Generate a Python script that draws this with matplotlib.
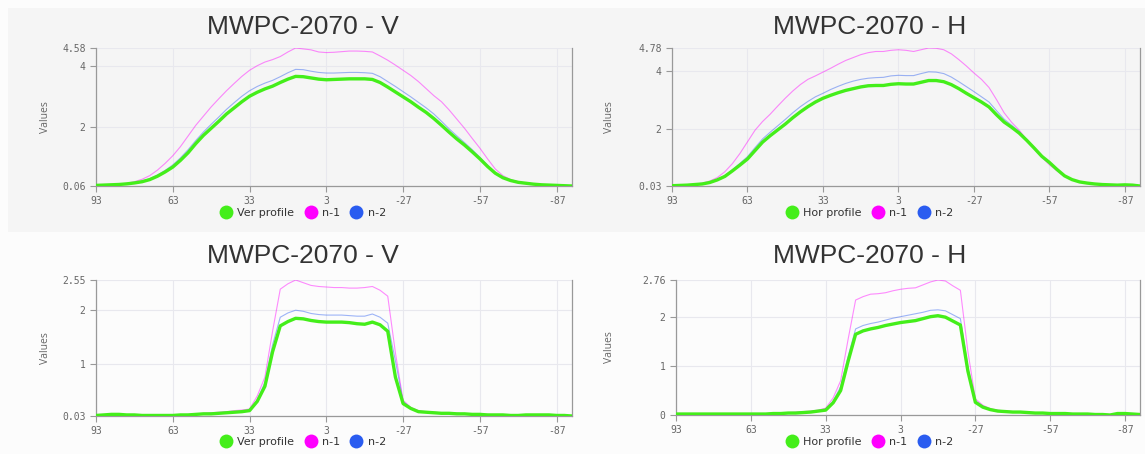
import numpy as np
import matplotlib
matplotlib.use("Agg")
import matplotlib.pyplot as plt
from matplotlib.lines import Line2D
from matplotlib.patches import Rectangle

plt.rcParams["axes.unicode_minus"] = False

# positions (mm) along the wire chamber, 93 .. -93
pos = [93 - 3 * i for i in range(63)]

# --- top left : vertical profile ---
v1_cur = [0.08, 0.09, 0.10, 0.11, 0.13, 0.16, 0.20, 0.27, 0.38, 0.52, 0.68, 0.90, 1.15, 1.45, 1.72, 1.95,
          2.18, 2.42, 2.62, 2.82, 3.00, 3.13, 3.24, 3.33, 3.45, 3.56, 3.65, 3.64, 3.60, 3.56, 3.54, 3.55,
          3.56, 3.57, 3.57, 3.57, 3.55, 3.45, 3.30, 3.14, 2.98, 2.82, 2.64, 2.47, 2.27, 2.05, 1.82, 1.60,
          1.40, 1.18, 0.95, 0.70, 0.48, 0.33, 0.24, 0.18, 0.15, 0.12, 0.10, 0.09, 0.08, 0.07, 0.06]
v1_n1 = [0.08, 0.09, 0.10, 0.12, 0.15, 0.20, 0.28, 0.40, 0.58, 0.80, 1.05, 1.35, 1.70, 2.05, 2.35, 2.65,
         2.92, 3.18, 3.42, 3.65, 3.85, 4.00, 4.12, 4.20, 4.30, 4.45, 4.58, 4.55, 4.52, 4.45, 4.43, 4.44,
         4.46, 4.48, 4.48, 4.47, 4.45, 4.32, 4.18, 4.02, 3.85, 3.68, 3.48, 3.25, 3.02, 2.82, 2.55, 2.25,
         1.95, 1.62, 1.30, 0.95, 0.62, 0.40, 0.27, 0.20, 0.16, 0.13, 0.11, 0.10, 0.09, 0.08, 0.07]
v1_n2 = [0.08, 0.09, 0.10, 0.11, 0.14, 0.17, 0.22, 0.30, 0.42, 0.57, 0.75, 0.98, 1.25, 1.55, 1.83, 2.08,
         2.32, 2.57, 2.79, 3.00, 3.18, 3.32, 3.43, 3.52, 3.64, 3.77, 3.88, 3.87, 3.82, 3.78, 3.76, 3.76,
         3.77, 3.78, 3.78, 3.77, 3.75, 3.64, 3.48, 3.32, 3.15, 2.98, 2.80, 2.62, 2.42, 2.18, 1.93, 1.70,
         1.48, 1.25, 1.00, 0.74, 0.50, 0.34, 0.25, 0.19, 0.15, 0.12, 0.10, 0.09, 0.08, 0.07, 0.06]

# --- top right : horizontal profile ---
h1_cur = [0.04, 0.05, 0.06, 0.08, 0.10, 0.15, 0.24, 0.36, 0.55, 0.75, 0.96, 1.25, 1.54, 1.76, 1.96, 2.16,
          2.38, 2.58, 2.76, 2.92, 3.05, 3.15, 3.24, 3.32, 3.38, 3.44, 3.48, 3.49, 3.49, 3.53, 3.55, 3.54,
          3.54, 3.60, 3.66, 3.66, 3.62, 3.52, 3.38, 3.22, 3.07, 2.92, 2.75, 2.48, 2.23, 2.05, 1.85, 1.60,
          1.33, 1.05, 0.84, 0.60, 0.38, 0.25, 0.17, 0.13, 0.10, 0.08, 0.07, 0.06, 0.07, 0.06, 0.03]
h1_n1 = [0.04, 0.05, 0.07, 0.09, 0.13, 0.20, 0.32, 0.52, 0.80, 1.15, 1.55, 1.95, 2.25, 2.50, 2.78, 3.05,
         3.30, 3.52, 3.70, 3.82, 3.95, 4.08, 4.22, 4.35, 4.45, 4.55, 4.62, 4.66, 4.66, 4.70, 4.72, 4.70,
         4.66, 4.72, 4.78, 4.77, 4.72, 4.58, 4.38, 4.16, 3.92, 3.70, 3.42, 3.00, 2.55, 2.22, 1.95, 1.62,
         1.30, 1.02, 0.76, 0.55, 0.36, 0.24, 0.16, 0.12, 0.10, 0.08, 0.07, 0.06, 0.07, 0.06, 0.04]
h1_n2 = [0.04, 0.05, 0.06, 0.08, 0.11, 0.16, 0.26, 0.39, 0.59, 0.81, 1.04, 1.35, 1.65, 1.88, 2.10, 2.32,
         2.55, 2.76, 2.94, 3.10, 3.22, 3.35, 3.46, 3.56, 3.64, 3.70, 3.74, 3.76, 3.77, 3.82, 3.84, 3.83,
         3.83, 3.90, 3.96, 3.95, 3.90, 3.78, 3.62, 3.45, 3.28, 3.10, 2.92, 2.62, 2.33, 2.12, 1.90, 1.63,
         1.35, 1.06, 0.85, 0.60, 0.38, 0.25, 0.17, 0.13, 0.10, 0.08, 0.07, 0.06, 0.07, 0.06, 0.04]

# --- bottom left : vertical profile ---
v2_cur = [0.04, 0.05, 0.06, 0.06, 0.05, 0.05, 0.04, 0.04, 0.04, 0.04, 0.04, 0.05, 0.05, 0.06, 0.07, 0.07,
          0.08, 0.09, 0.10, 0.11, 0.13, 0.30, 0.58, 1.22, 1.70, 1.78, 1.84, 1.83, 1.80, 1.78, 1.77, 1.77,
          1.77, 1.76, 1.74, 1.73, 1.77, 1.72, 1.60, 0.75, 0.26, 0.17, 0.11, 0.10, 0.09, 0.08, 0.08, 0.07,
          0.07, 0.06, 0.06, 0.05, 0.05, 0.05, 0.04, 0.04, 0.05, 0.05, 0.05, 0.05, 0.04, 0.04, 0.03]
v2_n1 = [0.04, 0.05, 0.06, 0.06, 0.05, 0.05, 0.05, 0.04, 0.04, 0.04, 0.05, 0.05, 0.06, 0.07, 0.08, 0.09,
         0.10, 0.11, 0.13, 0.14, 0.16, 0.40, 0.75, 1.60, 2.38, 2.48, 2.55, 2.50, 2.45, 2.43, 2.42, 2.41,
         2.41, 2.40, 2.40, 2.41, 2.43, 2.36, 2.25, 1.20, 0.32, 0.19, 0.13, 0.11, 0.10, 0.09, 0.09, 0.08,
         0.07, 0.07, 0.06, 0.06, 0.05, 0.05, 0.05, 0.05, 0.05, 0.05, 0.05, 0.05, 0.05, 0.04, 0.03]
v2_n2 = [0.04, 0.05, 0.06, 0.06, 0.05, 0.05, 0.04, 0.04, 0.04, 0.04, 0.04, 0.05, 0.05, 0.06, 0.07, 0.08,
         0.09, 0.10, 0.11, 0.12, 0.14, 0.33, 0.65, 1.35, 1.86, 1.94, 1.99, 1.97, 1.93, 1.91, 1.90, 1.90,
         1.90, 1.89, 1.88, 1.88, 1.92, 1.86, 1.75, 1.05, 0.30, 0.18, 0.12, 0.10, 0.09, 0.09, 0.08, 0.08,
         0.07, 0.06, 0.06, 0.05, 0.05, 0.05, 0.04, 0.04, 0.05, 0.05, 0.05, 0.05, 0.04, 0.04, 0.03]

# --- bottom right : horizontal profile ---
h2_cur = [0.02, 0.02, 0.02, 0.02, 0.02, 0.02, 0.02, 0.02, 0.02, 0.02, 0.02, 0.02, 0.02, 0.03, 0.03, 0.04,
          0.04, 0.05, 0.06, 0.08, 0.10, 0.25, 0.50, 1.10, 1.65, 1.72, 1.76, 1.79, 1.83, 1.86, 1.89, 1.91,
          1.93, 1.97, 2.01, 2.03, 2.00, 1.92, 1.84, 0.90, 0.26, 0.16, 0.11, 0.08, 0.07, 0.06, 0.06, 0.05,
          0.04, 0.04, 0.03, 0.03, 0.03, 0.02, 0.02, 0.02, 0.01, 0.01, 0.00, 0.03, 0.03, 0.02, 0.01]
h2_n1 = [0.03, 0.03, 0.03, 0.03, 0.03, 0.03, 0.03, 0.03, 0.03, 0.03, 0.03, 0.03, 0.03, 0.04, 0.04, 0.05,
         0.06, 0.07, 0.08, 0.10, 0.14, 0.35, 0.70, 1.55, 2.35, 2.42, 2.47, 2.48, 2.50, 2.54, 2.57, 2.59,
         2.60, 2.66, 2.72, 2.76, 2.74, 2.64, 2.55, 1.30, 0.33, 0.20, 0.13, 0.10, 0.08, 0.07, 0.07, 0.06,
         0.05, 0.05, 0.04, 0.04, 0.03, 0.03, 0.03, 0.02, 0.02, 0.02, 0.01, 0.03, 0.03, 0.02, 0.01]
h2_n2 = [0.02, 0.02, 0.02, 0.02, 0.02, 0.02, 0.02, 0.02, 0.02, 0.02, 0.02, 0.02, 0.03, 0.03, 0.04, 0.04,
         0.05, 0.06, 0.07, 0.09, 0.12, 0.28, 0.58, 1.20, 1.76, 1.83, 1.87, 1.90, 1.94, 1.98, 2.01, 2.04,
         2.07, 2.10, 2.14, 2.15, 2.13, 2.05, 1.97, 0.98, 0.29, 0.18, 0.12, 0.09, 0.07, 0.06, 0.06, 0.05,
         0.05, 0.04, 0.03, 0.03, 0.03, 0.02, 0.02, 0.02, 0.01, 0.01, 0.00, 0.03, 0.03, 0.02, 0.01]

x_ticks = [93, 63, 33, 3, -27, -57, -87]
v_name = "Ver profile"
h_name = "Hor profile"

GREEN = "#44ee1a"
MAGENTA = "#ff00ff"
BLUE = "#2a5cf0"
TEXT = "#333333"
TICK = "#666666"

W, H = 1145, 454
fig = plt.figure(figsize=(W / 100, H / 100), dpi=100, facecolor="#fcfcfc")

# light grey band behind the top row
fig.patches.append(Rectangle((8 / W, 1 - 232 / H), 1 - 8 / W, 224 / H,
                             transform=fig.transFigure, facecolor="#f5f5f5",
                             edgecolor="none", zorder=-10))


def fmt(v):
    if v == 0:
        return "0"
    if v == int(v):
        return f"{int(v)}"
    return f"{v:.2f}"


def panel(box, title, tx, ty, name, cur, n1, n2, y_ticks, ylabel_x, legend_y):
    l, t, r, b = box
    ax = fig.add_axes([l / W, 1 - b / H, (r - l) / W, (b - t) / H])
    ax.set_facecolor("none")
    ax.plot(pos, n1, color=MAGENTA, lw=0.8, alpha=0.45, zorder=2)
    ax.plot(pos, n2, color=BLUE, lw=0.8, alpha=0.45, zorder=3)
    ax.plot(pos, cur, color=GREEN, lw=2.4, zorder=4, solid_joinstyle="round")
    ax.set_xlim(93, -93)
    ax.set_ylim(y_ticks[0], y_ticks[-1])
    ax.set_xticks(x_ticks)
    ax.set_yticks(y_ticks)
    ax.set_yticklabels([fmt(v) for v in y_ticks])
    ax.grid(True, color="#e8e8ee", lw=0.8, zorder=0)
    ax.tick_params(axis="both", colors="#999999", labelcolor=TICK, labelsize=7, length=4, width=0.8)
    for lab in ax.get_xticklabels() + ax.get_yticklabels():
        lab.set_family("DejaVu Sans Mono")
    for s in ("left", "bottom", "right"):
        ax.spines[s].set_color("#999999")
        ax.spines[s].set_linewidth(0.9)
    ax.spines["top"].set_visible(False)
    fig.text(tx / W, 1 - ty / H, title, ha="center", va="center", fontsize=19,
             family="Liberation Sans", color=TEXT)
    fig.text(ylabel_x / W, 1 - (t + b) / 2 / H, "Values", rotation=90, ha="center", va="center",
             fontsize=7.5, color=TICK, family="Open Sans")
    handles = [Line2D([], [], ls="none", marker="o", ms=10, color=c, markeredgewidth=0)
               for c in (GREEN, MAGENTA, BLUE)]
    fig.legend(handles, [name, "n-1", "n-2"], loc="center", bbox_to_anchor=(tx / W, 1 - legend_y / H),
               ncol=3, frameon=False, fontsize=8, handletextpad=0.5, columnspacing=1.0,
               handlelength=1.0, labelcolor=TEXT)


panel((96, 48, 572, 186), "MWPC-2070 - V", 303, 27, v_name, v1_cur, v1_n1, v1_n2,
      [0.06, 2, 4, 4.58], 45, 213)
panel((672, 48, 1140, 186), "MWPC-2070 - H", 870, 27, h_name, h1_cur, h1_n1, h1_n2,
      [0.03, 2, 4, 4.78], 610, 213)
panel((96, 280, 572, 416), "MWPC-2070 - V", 303, 256, v_name, v2_cur, v2_n1, v2_n2,
      [0.03, 1, 2, 2.55], 45, 442)
panel((676, 280, 1140, 415), "MWPC-2070 - H", 870, 256, h_name, h2_cur, h2_n1, h2_n2,
      [0, 1, 2, 2.76], 610, 442)

fig.savefig("out.png", dpi=100, facecolor=fig.get_facecolor())
